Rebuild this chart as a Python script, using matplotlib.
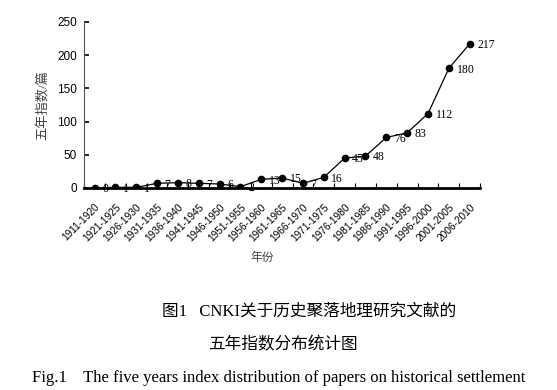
import matplotlib.pyplot as plt
import numpy as np

plt.rcParams['font.family'] = ['Liberation Serif', 'Noto Sans CJK SC']

periods = ['1911-1920', '1921-1925', '1926-1930', '1931-1935', '1936-1940',
           '1941-1945', '1946-1950', '1951-1955', '1956-1960', '1961-1965',
           '1966-1970', '1971-1975', '1976-1980', '1981-1985', '1986-1990',
           '1991-1995', '1996-2000', '2001-2005', '2006-2010']
counts = [0, 1, 1, 7, 8, 7, 6, 2, 13, 15, 7, 16, 45, 48, 76, 83, 112, 180, 217]

x = np.arange(len(periods))

fig = plt.figure(figsize=(5.57, 3.9), dpi=100)
ax = fig.add_axes([0.151, 0.518, 0.711, 0.426])

ax.plot(x, counts, color='black', lw=0.9, marker='o', ms=4.5, zorder=3)
for xi, v in zip(x, counts):
    ax.annotate(str(v), (xi, v), xytext=(5.5, -1), textcoords='offset points',
                ha='left', va='center', fontsize=8.5, zorder=2)

ax.set_xlim(-0.5, len(periods) - 0.5)
ax.set_ylim(0, 250)
ax.set_yticks(np.arange(0, 251, 50))

# category ticks sit between the points, labels under the points
ax.set_xticks(x)
ax.set_xticklabels(periods, rotation=45, ha='right', va='top',
                   rotation_mode='anchor', fontsize=7.3, family='Liberation Sans')
ax.set_xticks(np.arange(-0.5, len(periods), 1), minor=True)
ax.tick_params(axis='x', which='major', length=0, pad=10)
ax.tick_params(axis='x', which='minor', direction='in', length=3.5, width=0.8)
ax.tick_params(axis='y', direction='in', length=3.5, width=1.2, labelsize=8.5, pad=5)
for lab in ax.get_yticklabels():
    lab.set_family('Liberation Sans')

for s in ['top', 'right']:
    ax.spines[s].set_visible(False)
ax.spines['bottom'].set_linewidth(2)
ax.spines['left'].set_linewidth(0.8)
ax.spines['left'].set_color('#555555')

ax.set_ylabel('五年指数/篇', fontsize=9.5, color='#444444', labelpad=6)
fig.text(0.47, 0.338, '年份', fontsize=8.5, color='#444444', ha='center', va='center')

fig.text(0.29, 0.2, '图1   CNKI关于历史聚落地理研究文献的', fontsize=12,
         ha='left', va='center')
fig.text(0.508, 0.115, '五年指数分布统计图', fontsize=12, ha='center', va='center')
fig.text(0.5, 0.03, 'Fig.1    The five years index distribution of papers on historical settlement',
         fontsize=12, ha='center', va='center')

fig.savefig('out.png', dpi=100)
